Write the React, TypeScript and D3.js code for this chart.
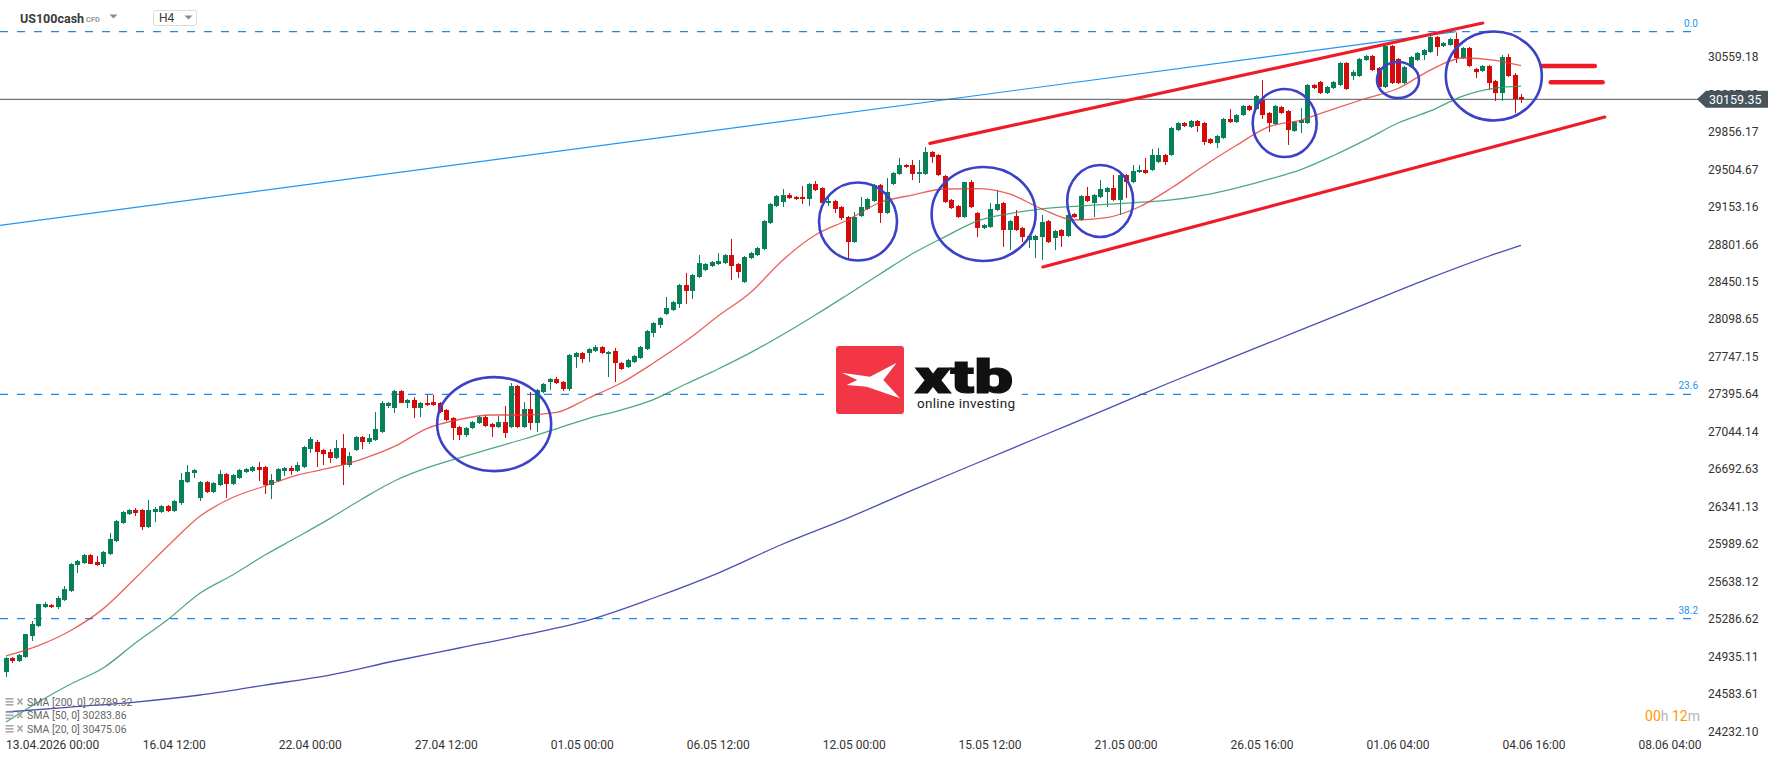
import React from "react";
import * as d3 from "d3";

const W = 1768;
const H = 761;

// ---- Candles (H4) ----
const OPEN = [24785,24917,24889,24926,25123,25217,25395,25414,25395,25461,25546,25790,25808,25883,25818,25799,25893,26015,26184,26268,26306,26306,26146,26287,26287,26343,26296,26371,26568,26653,26418,26568,26475,26540,26643,26550,26606,26662,26672,26709,26709,26540,26578,26672,26700,26672,26709,26878,26944,26869,26850,26794,26887,26728,26869,26991,26944,26962,27038,27282,27263,27422,27310,27338,27263,27310,27319,27310,27244,27169,27084,27009,27075,27122,27178,27113,27084,27131,27084,27469,27084,27253,27122,27413,27507,27535,27507,27441,27741,27779,27779,27798,27835,27770,27798,27685,27647,27694,27732,27816,27967,28042,28145,28182,28239,28417,28361,28492,28558,28595,28614,28623,28698,28614,28445,28670,28698,28755,28999,29158,29196,29261,29243,29243,29224,29365,29327,29186,29205,29149,29055,28820,29064,29130,29205,29355,29093,29365,29459,29543,29543,29459,29459,29665,29637,29440,29215,29158,29055,29383,29093,28952,28961,29121,29186,28933,29064,28952,28839,28839,28867,29017,28858,28933,28877,29083,29027,29252,29186,29243,29290,29327,29215,29449,29383,29477,29496,29496,29571,29637,29637,29871,29937,29900,29956,29937,29787,29749,29796,29975,29946,30012,30097,30068,30153,30031,29928,30087,30050,29862,29937,29937,30294,30322,30218,30265,30294,30500,30378,30378,30528,30566,30453,30275,30660,30538,30312,30462,30528,30575,30603,30744,30660,30669,30725,30547,30641,30444,30425,30472,30331,30218,30556,30388,30181];
const HIGH = [24926,24926,24954,25142,25264,25424,25442,25424,25499,25592,25808,25836,25893,25893,25874,25921,26090,26212,26296,26315,26324,26315,26400,26334,26353,26353,26400,26653,26728,26690,26578,26578,26568,26681,26653,26643,26690,26700,26718,26756,26718,26643,26700,26709,26718,26756,26906,26991,26962,26878,26878,26962,27019,26850,27000,27000,27019,27225,27328,27319,27432,27432,27347,27366,27319,27385,27385,27319,27253,27178,27094,27084,27141,27188,27197,27122,27188,27282,27497,27479,27319,27413,27441,27497,27544,27554,27516,27770,27788,27788,27826,27854,27845,27798,27826,27694,27723,27760,27845,27995,28070,28117,28304,28267,28426,28530,28520,28698,28623,28642,28717,28708,28849,28623,28689,28727,28774,29027,29186,29261,29318,29280,29252,29346,29374,29393,29337,29252,29215,29158,29064,29102,29243,29233,29365,29365,29421,29477,29609,29552,29590,29590,29712,29674,29646,29449,29224,29168,29383,29402,29102,28989,29186,29308,29196,29027,29121,28961,28886,28886,29074,29027,28933,28942,29083,29093,29261,29337,29271,29402,29337,29449,29459,29459,29543,29543,29609,29693,29702,29646,29900,29946,29946,29965,29965,29946,29796,29824,29984,30068,30022,30106,30106,30200,30341,30040,30106,30097,30059,29956,30078,30303,30303,30331,30284,30331,30509,30509,30434,30547,30575,30575,30462,30669,30669,30547,30472,30566,30603,30631,30753,30753,30697,30735,30785,30650,30650,30453,30481,30481,30341,30575,30584,30406,30209];
const LOW = [24739,24870,24879,24917,25076,25208,25386,25386,25377,25452,25536,25714,25799,25799,25780,25771,25883,26005,26174,26259,26249,26118,26137,26193,26277,26287,26287,26353,26559,26606,26390,26465,26465,26531,26418,26540,26597,26653,26662,26578,26456,26409,26568,26625,26634,26662,26700,26840,26709,26728,26747,26784,26540,26709,26859,26878,26925,26953,27028,27263,27216,27310,27263,27169,27178,27282,27282,27216,27141,26962,26962,26991,27066,27113,27084,26991,27075,26981,27075,27075,27075,27056,27038,27403,27432,27488,27422,27422,27638,27685,27694,27788,27770,27554,27507,27619,27638,27685,27723,27807,27929,28013,28135,28173,28201,28239,28286,28483,28548,28586,28605,28614,28464,28483,28436,28661,28689,28745,28989,29149,29149,29224,29215,29177,29158,29299,29158,29158,29093,29027,28661,28811,29055,29121,29196,28999,29083,29355,29449,29515,29402,29374,29449,29562,29440,29186,29130,29046,29046,29139,28867,28942,28952,29111,28774,28745,28924,28820,28764,28670,28652,28811,28745,28774,28867,29046,29017,29196,29055,29233,29149,29205,29074,29233,29374,29468,29459,29487,29562,29543,29627,29862,29900,29890,29853,29731,29740,29702,29787,29937,29937,30003,30050,30059,29975,29853,29918,30022,29731,29853,29843,29928,30256,30209,30209,30256,30284,30247,30341,30369,30519,30425,30265,30265,30303,30303,30303,30453,30519,30528,30594,30566,30650,30660,30500,30538,30462,30359,30415,30247,30143,30143,30369,30031,30125];
const CLOSE = [24917,24889,24945,25142,25236,25424,25424,25395,25480,25564,25799,25827,25883,25799,25790,25912,26034,26202,26287,26306,26277,26146,26306,26315,26343,26296,26390,26587,26662,26681,26568,26475,26559,26643,26550,26634,26681,26690,26709,26681,26540,26587,26690,26700,26672,26728,26897,26972,26850,26831,26794,26887,26728,26812,26991,26944,26981,27066,27310,27310,27422,27310,27338,27263,27310,27291,27291,27225,27150,27075,27009,27075,27131,27178,27094,27084,27131,27028,27469,27084,27253,27122,27432,27488,27535,27497,27441,27760,27779,27723,27816,27835,27779,27788,27685,27629,27713,27751,27835,27985,28060,28107,28201,28257,28417,28361,28511,28623,28614,28633,28642,28698,28595,28539,28680,28717,28764,29017,29177,29252,29261,29233,29224,29224,29365,29308,29186,29205,29130,29046,28820,29055,29149,29224,29355,29093,29290,29468,29543,29524,29459,29477,29665,29618,29449,29196,29139,29055,29383,29149,28952,28980,29130,29177,28933,29017,28933,28867,28877,28877,29008,28820,28924,28877,29074,29055,29252,29205,29261,29318,29327,29215,29449,29383,29487,29496,29468,29637,29637,29571,29890,29937,29909,29956,29909,29759,29749,29815,29975,29946,30012,30097,30059,30190,30012,29937,30097,30031,29871,29946,29965,30294,30265,30218,30275,30322,30500,30256,30415,30538,30566,30434,30275,30660,30312,30312,30462,30556,30594,30622,30744,30650,30688,30725,30547,30641,30472,30415,30472,30312,30218,30556,30378,30162,30159.35];

// ---- Moving averages ----
// SMA 20 and SMA 50 sampled every 5 bars (plus last bar), SMA 200 every 10 bars (plus last bar)
const SMA20 = [24936,25033,25175,25378,25668,25968,26249,26423,26531,26634,26700,26784,26902,27070,27155,27197,27197,27221,27357,27497,27685,27891,28126,28347,28652,28886,29027,29191,29261,29318,29322,29271,29130,29027,29050,29149,29327,29534,29726,29900,29965,30068,30167,30261,30434,30547,30524,30475.06];
const SMA50 = [24316,24504,24673,24823,25058,25278,25527,25696,25883,26052,26225,26409,26578,26700,26794,26883,26972,27068,27166,27244,27342,27488,27629,27782,27952,28135,28326,28520,28710,28869,29017,29087,29132,29155,29174,29192,29215,29261,29327,29408,29500,29630,29778,29937,30050,30190,30265,30283.86];
const SMA200 = [24410,24457,24504,24570,24663,24757,24889,25011,25133,25273,25480,25714,25987,26230,26493,26747,27000,27253,27507,27751,27995,28239,28483,28708,28789.32];
const SMA_LEGEND = ["SMA [200, 0] 28789.32", "SMA [50, 0] 30283.86", "SMA [20, 0] 30475.06"];

const Y_TICKS = ["30559.18","30207.68","29856.17","29504.67","29153.16","28801.66","28450.15","28098.65","27747.15","27395.64","27044.14","26692.63","26341.13","25989.62","25638.12","25286.62","24935.11","24583.61","24232.10"];
const X_TICK_LABELS = ["13.04.2026 00:00","16.04 12:00","22.04 00:00","27.04 12:00","01.05 00:00","06.05 12:00","12.05 00:00","15.05 12:00","21.05 00:00","26.05 16:00","01.06 04:00","04.06 16:00","08.06 04:00"];
const X_TICK_BARS = [5,26,47,68,89,110,131,152,173,194,215,236,257];

const FIB_LABELS = ["0.0", "23.6", "38.2"];
const FIB_PRICES = [30794, 27391, 25287];
const LAST_PRICE = 30159.35;

// ---- Drawn annotations (bar index, price) ----
const FIB_TREND = [[-1, 28975], [224, 30794]];
const CHANNEL_UPPER = [[142.7, 29746], [228.1, 30875]];
const CHANNEL_LOWER = [[160.15, 28586], [246.95, 29993]];
const EQ_MARKS = [[237.2, 245.4, 30472], [238.6, 246.6, 30319]];
const CIRCLES = [
  [75.4, 27112, 57, 47],
  [131.6, 29013, 39, 39],
  [151.0, 29083, 52, 47],
  [169.0, 29205, 33, 36],
  [197.5, 29937, 32, 34],
  [215.0, 30341, 21, 18],
  [229.8, 30378, 48, 44.5],
];

const FONT = "Roboto, 'Noto Sans', sans-serif";
const GREEN = "#07805a";
const RED = "#d20b0b";
const PLOT_RIGHT = 1700;

export default function App() {
  const n = CLOSE.length;
  const x = d3.scaleLinear().domain([0, n - 1]).range([6, 1521]);
  const y = d3.scaleLinear().domain([24232.1, 30559.18]).range([731, 56.7]);

  const idx5 = d3.range(0, n - 4, 5).concat([n - 1]);
  const idx10 = d3.range(0, n - 4, 10).concat([n - 1]);

  const line = d3
    .line<[number, number]>()
    .x((d) => x(d[0]))
    .y((d) => y(d[1]))
    .curve(d3.curveMonotoneX);

  const sma20Path = line(SMA20.map((v, i) => [idx5[i], v]) as [number, number][]) || "";
  const sma50Path = line(SMA50.map((v, i) => [idx5[i], v]) as [number, number][]) || "";
  const sma200Path = line(SMA200.map((v, i) => [idx10[i], v]) as [number, number][]) || "";

  const bodyW = 5;
  const candles = CLOSE.map((c, i) => {
    const o = OPEN[i];
    const up = c >= o;
    const col = up ? GREEN : RED;
    const cx = Math.round(x(i)) + 0.5;
    const yTop = y(Math.max(o, c));
    const yBot = y(Math.min(o, c));
    return (
      <g key={i}>
        <line x1={cx} x2={cx} y1={y(HIGH[i])} y2={y(LOW[i])} stroke={col} strokeWidth={1} />
        <rect x={cx - bodyW / 2} y={yTop} width={bodyW} height={Math.max(1, yBot - yTop)} fill={col} />
      </g>
    );
  });

  const lastY = y(LAST_PRICE);

  return (
    <div style={{ position: "absolute", left: 0, top: 0 }}>
      <svg width={W} height={H} style={{ display: "block", background: "#fff", fontFamily: FONT }}>
        <rect x={0} y={0} width={W} height={H} fill="#fff" />

        {/* header */}
        <text x={20} y={22.5} fontSize={12.5} fontWeight={700} fill="#3a3a3a">US100cash</text>
        <text x={86} y={21.5} fontSize={7.5} fontWeight={700} fill="#9a9a9a">CFD</text>
        <path d="M109.5,14.5 L117.5,14.5 L113.5,18.5 Z" fill="#8a8a8a" />
        <rect x={153.5} y={10.5} width={43} height={15} rx={2} fill="#fff" stroke="#dcdcdc" />
        <text x={159} y={22} fontSize={12} fill="#3a3a3a">H4</text>
        <path d="M184.5,15.5 L192.5,15.5 L188.5,19.5 Z" fill="#8a8a8a" />

        {/* fibonacci levels */}
        {FIB_PRICES.map((p, i) => (
          <g key={"fib" + i}>
            <line x1={0} x2={PLOT_RIGHT} y1={y(p)} y2={y(p)} stroke="#1e88e5" strokeWidth={1.2} strokeDasharray="8 9" />
            <text x={1698} y={y(p) - 5} fontSize={10} fill="#2196f3" textAnchor="end">{FIB_LABELS[i]}</text>
          </g>
        ))}
        <line
          x1={x(FIB_TREND[0][0])}
          y1={y(FIB_TREND[0][1])}
          x2={x(FIB_TREND[1][0])}
          y2={y(FIB_TREND[1][1])}
          stroke="#2196f3"
          strokeWidth={1.2}
        />

        {/* logo */}
        <g>
          <rect x={832} y={343} width={190} height={75} fill="#fff" />
          <rect x={836} y={346} width={68} height={68} rx={3} fill="#f23645" />
          <path
            transform="translate(836,346)"
            d="M5.7,26.7 L34,30.7 L60.7,16.7 L47.3,34 L64,52.3 L30.7,40.7 L10.7,39 L21.3,34 Z"
            fill="#fff"
          />
          <text
            x={915}
            y={393}
            fontSize={47}
            fontWeight={900}
            fill="#111"
            stroke="#111"
            strokeWidth={1.2}
            textLength={98}
            lengthAdjust="spacingAndGlyphs"
          >
            xtb
          </text>
          <text x={917} y={407.5} fontSize={13.5} fill="#222" textLength={98} lengthAdjust="spacing">online investing</text>
        </g>

        {/* last price line */}
        <line x1={0} x2={PLOT_RIGHT} y1={lastY} y2={lastY} stroke="#4a565e" strokeWidth={1} />

        {/* candles */}
        {candles}

        {/* moving averages */}
        <path d={sma200Path} fill="none" stroke="#4a4fb4" strokeWidth={1.3} />
        <path d={sma50Path} fill="none" stroke="#2f9a68" strokeWidth={1.3} opacity={0.85} />
        <path d={sma20Path} fill="none" stroke="#e53935" strokeWidth={1.3} opacity={0.8} />

        {/* channel */}
        {[CHANNEL_UPPER, CHANNEL_LOWER].map((l, i) => (
          <line
            key={"ch" + i}
            x1={x(l[0][0])}
            y1={y(l[0][1])}
            x2={x(l[1][0])}
            y2={y(l[1][1])}
            stroke="#ef1c27"
            strokeWidth={3.2}
            strokeLinecap="round"
          />
        ))}
        {EQ_MARKS.map((m, i) => (
          <line
            key={"eq" + i}
            x1={x(m[0])}
            x2={x(m[1])}
            y1={y(m[2])}
            y2={y(m[2])}
            stroke="#ef1c27"
            strokeWidth={4.5}
            strokeLinecap="round"
          />
        ))}

        {/* circles */}
        {CIRCLES.map((c, i) => (
          <ellipse key={"c" + i} cx={x(c[0])} cy={y(c[1])} rx={c[2]} ry={c[3]} fill="none" stroke="#3c42c8" strokeWidth={2.6} />
        ))}

        {/* y axis labels */}
        {Y_TICKS.map((t) => (
          <text key={t} x={1708} y={y(parseFloat(t)) + 4.5} fontSize={12} fill="#333">{t}</text>
        ))}

        {/* last price tag */}
        <path d={`M1697,${lastY} L1706,${lastY - 8.5} L1768,${lastY - 8.5} L1768,${lastY + 8.5} L1706,${lastY + 8.5} Z`} fill="#47545c" />
        <text x={1709} y={lastY + 4.5} fontSize={12.5} fill="#fff">{LAST_PRICE.toFixed(2)}</text>

        {/* x axis labels */}
        {X_TICK_LABELS.map((t, i) => (
          <text
            key={t}
            x={i === 0 ? 6 : x(X_TICK_BARS[i])}
            y={748.5}
            fontSize={12}
            fill="#333"
            textAnchor={i === 0 ? "start" : "middle"}
          >
            {t}
          </text>
        ))}

        {/* timer */}
        <text x={1700} y={721} fontSize={14} textAnchor="end">
          <tspan fill="#ff9800">00</tspan>
          <tspan fill="#b5b5b5">h </tspan>
          <tspan fill="#ff9800">12</tspan>
          <tspan fill="#b5b5b5">m</tspan>
        </text>

        {/* legend */}
        {SMA_LEGEND.map((t, i) => {
          const ly = 702 + i * 13.5;
          return (
            <g key={t}>
              <rect x={5.5} y={ly - 4} width={8} height={1.6} fill="#a8a8a8" />
              <rect x={5.5} y={ly - 1} width={8} height={1.6} fill="#a8a8a8" />
              <rect x={5.5} y={ly + 2} width={8} height={1.6} fill="#a8a8a8" />
              <path d={`M17.5,${ly - 3.5} L22.5,${ly + 2.5} M22.5,${ly - 3.5} L17.5,${ly + 2.5}`} stroke="#a8a8a8" strokeWidth={1.8} />
              <text x={27} y={ly + 3.8} fontSize={10.5} fill="#666">{t}</text>
            </g>
          );
        })}
      </svg>
    </div>
  );
}
